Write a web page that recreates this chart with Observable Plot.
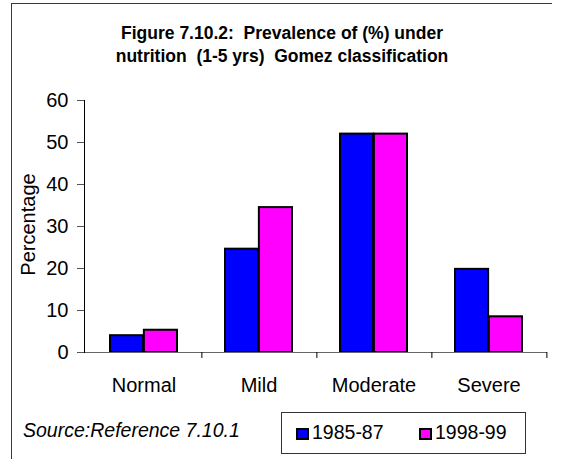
<!DOCTYPE html>
<html>
<head>
<meta charset="utf-8">
<script src="https://cdn.jsdelivr.net/npm/d3@7"></script>
<script src="https://cdn.jsdelivr.net/npm/@observablehq/plot@0.6"></script>
<style>
  html, body { margin: 0; padding: 0; background: #fff; }
  #wrap { position: relative; width: 564px; height: 459px; overflow: hidden; font-family: "Liberation Sans", Arial, sans-serif; color: #000; }
  #chart { position: absolute; left: 0; top: 0; }
  .border-left { position: absolute; left: 11px; top: 3px; width: 1px; height: 460px; background: #3a3a3a; }
  .border-top { position: absolute; left: 11px; top: 3px; width: 541px; height: 1px; background: #3a3a3a; }
  #title { position: absolute; left: 0; top: 22.3px; width: 564px; text-align: center; font-weight: bold; font-size: 17.5px; line-height: 23px; white-space: pre; }
  #source { position: absolute; left: 23px; top: 417.5px; font-style: italic; font-size: 19.5px; line-height: 24px; white-space: pre; }
  #legend { position: absolute; left: 281px; top: 412px; width: 245px; height: 42px; border: 1px solid #333; box-sizing: border-box; }
  .item { position: absolute; top: 6.5px; height: 24px; font-size: 19.5px; line-height: 24px; white-space: pre; }
  .sw { position: absolute; top: 8px; left: 0; width: 13px; height: 12px; border: 2px solid #000; box-sizing: border-box; }
  .item span.lab { position: absolute; left: 16px; top: 0; }
</style>
</head>
<body>
<div id="wrap">
  <div id="chart"></div>
  <div class="border-left"></div>
  <div class="border-top"></div>
  <div id="title"></div>
  <div id="source"></div>
  <div id="legend"></div>
</div>
<script>
const titleLines = ["Figure 7.10.2:  Prevalence of (%) under", "nutrition  (1-5 yrs)  Gomez classification"];
const sourceText = "Source:Reference 7.10.1";
const yLabel = "Percentage";
const categories = ["Normal", "Mild", "Moderate", "Severe"];
const series = ["1985-87", "1998-99"];
const values1985 = [4.0, 24.6, 52.0, 19.8];
const values1998 = [5.3, 34.5, 52.0, 8.5];
const yTicks = [0, 10, 20, 30, 40, 50, 60];
const colors = ["#0000FF", "#FF00FF"];

const data = [];
categories.forEach((c, i) => {
  data.push({category: c, series: series[0], value: values1985[i]});
  data.push({category: c, series: series[1], value: values1998[i]});
});

const W = 564, H = 459, mL = 84, mR = 17, mT = 100, mB = 107;
const bw = (W - mL - mR) / categories.length;
const padOuter = 24, barW = (bw - 2 * padOuter) / 2;

const chart = Plot.plot({
  width: W, height: H,
  marginTop: mT, marginBottom: mB, marginLeft: mL, marginRight: mR,
  style: {fontFamily: "'Liberation Sans', Arial, sans-serif", fontSize: "20px", color: "#000", background: "transparent", overflow: "visible"},
  x: {domain: categories, padding: 0, label: null},
  y: {domain: [0, 60], label: null},
  color: {domain: series, range: colors},
  marks: [
    Plot.barY(data.filter(d => d.series === series[0]), {x: "category", y: "value", fill: "series", stroke: "#000", strokeWidth: 2, insetLeft: padOuter, insetRight: padOuter + barW}),
    Plot.barY(data.filter(d => d.series === series[1]), {x: "category", y: "value", fill: "series", stroke: "#000", strokeWidth: 2, insetLeft: padOuter + barW, insetRight: padOuter}),
    Plot.ruleY([0], {stroke: "#666", strokeWidth: 1}),
    Plot.frame({anchor: "left", stroke: "#000", strokeWidth: 1}),
    Plot.axisY({ticks: yTicks, tickSize: 7, tickPadding: 9, label: null, fontSize: 20, stroke: "#555"}),
    Plot.axisX({tickSize: 0, tickPadding: 25, label: null, fontSize: 20}),
    Plot.axisX({tickSize: 6, tickFormat: () => "", dx: bw / 2, label: null, stroke: "#000"}),
    Plot.text([yLabel], {frameAnchor: "left", textAnchor: "middle", rotate: -90, dx: -56, dy: -2, fontSize: 20})
  ]
});
document.getElementById("chart").appendChild(chart);

document.getElementById("title").textContent = titleLines.join("\n");
document.getElementById("source").textContent = sourceText;
const legend = document.getElementById("legend");
const legendX = [14, 137];
series.forEach((s, i) => {
  const it = document.createElement("div");
  it.className = "item";
  it.style.left = legendX[i] + "px";
  const sw = document.createElement("div");
  sw.className = "sw";
  sw.style.background = colors[i];
  const lab = document.createElement("span");
  lab.className = "lab";
  lab.textContent = s;
  it.appendChild(sw);
  it.appendChild(lab);
  legend.appendChild(it);
});
</script>
</body>
</html>
